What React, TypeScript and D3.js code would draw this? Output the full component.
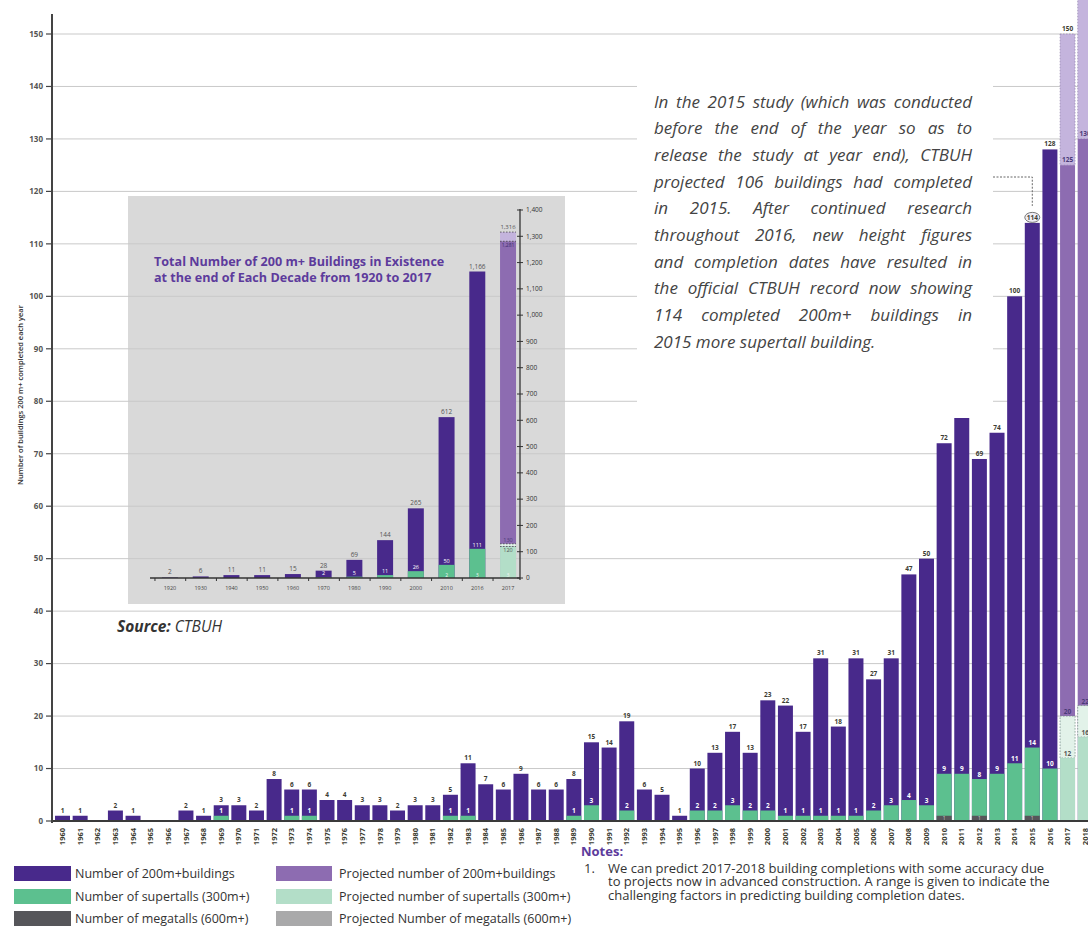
import React, { useRef, useEffect } from 'react';
import * as d3 from 'd3';

type Svg = d3.Selection<SVGSVGElement, unknown, null, undefined>;

// categories
const years = d3.range(1960, 2019).map(String);
const completedYears = years.slice(0, 57);
const projectedYears = ['2017', '2018'];

// buildings completed each year, 1960-2016
const totals = [
  1, 1, 0, 2, 1, 0, 0, 2, 1, 3,
  3, 2, 8, 6, 6, 4, 4, 3, 3, 2,
  3, 3, 5, 11, 7, 6, 9, 6, 6, 8,
  15, 14, 19, 6, 5, 1, 10, 13, 17, 13,
  23, 22, 17, 31, 18, 31, 27, 31, 47, 50,
  72, 80, 69, 74, 100, 114, 128,
];
const supertalls = [
  0, 0, 0, 0, 0, 0, 0, 0, 0, 1,
  0, 0, 0, 1, 1, 0, 0, 0, 0, 0,
  0, 0, 1, 1, 0, 0, 0, 0, 0, 1,
  3, 0, 2, 0, 0, 0, 2, 2, 3, 2,
  2, 1, 1, 1, 1, 1, 2, 3, 4, 3,
  9, 9, 8, 9, 11, 14, 10,
];
const megatallYears = ['2010', '2012', '2015'];
const megatalls = [1, 1, 1];

// projected range 2017-2018
const projectedLow = [125, 130];
const projectedHigh = [150, 160];
const projectedSuperLow = [12, 16];
const projectedSuperHigh = [20, 22];

// inset: totals in existence at end of each decade
const decades = ['1920', '1930', '1940', '1950', '1960', '1970', '1980', '1990', '2000', '2010', '2016', '2017'];
const decadeTotals = [2, 6, 11, 11, 15, 28, 69, 144, 265, 612, 1166, 1281];
const decadeSupertalls = [0, 0, 0, 0, 0, 2, 5, 11, 26, 50, 111, 120];
const decadeMegatalls = [0, 0, 0, 0, 0, 0, 0, 0, 0, 2, 3, 3];
const insetProjectedHigh = 1316;
const insetSuperHigh = 130;

const annotationLines = [
  'In the 2015 study (which was conducted',
  'before the end of the year so as to',
  'release the study at year end), CTBUH',
  'projected 106 buildings had completed',
  'in 2015. After continued research',
  'throughout 2016, new height figures',
  'and completion dates have resulted in',
  'the official CTBUH record now showing',
  '114 completed 200m+ buildings in',
  '2015 more supertall building.',
];

const legendLeft = ['Number of 200m+buildings', 'Number of supertalls (300m+)', 'Number of megatalls (600m+)'];
const legendRight = [
  'Projected number of 200m+buildings',
  'Projected number of supertalls (300m+)',
  'Projected Number of megatalls (600m+)',
];
const noteLines = [
  'We can predict 2017-2018 building completions with some accuracy due',
  'to projects now in advanced construction. A range is given to indicate the',
  'challenging factors in predicting building completion dates.',
];

const FONT = "'Open Sans', sans-serif";
const PURPLE = '#48298b';
const GREEN = '#5cc08f';
const MEGA = '#56565a';
const PROJ_PURPLE = '#8d6cb1';
const PROJ_UPPER = '#c4b4dd';
const PROJ_GREEN = '#b3dec8';
const PROJ_GREEN_RANGE = '#e2f2e9';
const PROJ_MEGA = '#a9a9aa';
const TITLE_PURPLE = '#5d3b9c';

const W = 1088;
const H = 926;

const App = () => {
  const ref = useRef<SVGSVGElement | null>(null);

  useEffect(() => {
    if (!ref.current) {
      return;
    }
    const svg = d3.select(ref.current);
    svg.selectAll('*').remove();

    const x = d3.scaleBand().domain(years).range([53.7, 1094]).paddingInner(0.15).paddingOuter(0.075);
    const y = d3.scaleLinear().domain([0, 150]).range([821, 34]);

    appendInsetBackground(svg);
    appendGrid(svg, y);
    appendBars(svg, x, y);
    appendProjected(svg, x, y);
    appendAxes(svg, x, y);
    appendInset(svg);
    appendAnnotation(svg, x, y);
    appendLegend(svg);
  }, []);

  return (
    <svg
      ref={ref}
      width={W}
      height={H}
      style={{ position: 'absolute', left: 0, top: 0, background: '#fff' }}
    />
  );
};

function appendInsetBackground(svg: Svg) {
  svg.append('rect').attr('x', 128).attr('y', 196).attr('width', 437).attr('height', 408).attr('fill', '#d9d9d9');
}

function appendGrid(svg: Svg, y: d3.ScaleLinear<number, number>) {
  svg
    .append('g')
    .selectAll('line')
    .data(y.ticks(15).filter((t) => t > 0))
    .enter()
    .append('line')
    .attr('x1', 52)
    .attr('x2', W)
    .attr('y1', (d) => y(d))
    .attr('y2', (d) => y(d))
    .attr('stroke', '#c9c9c9')
    .attr('stroke-width', 1);
}

function appendBars(svg: Svg, x: d3.ScaleBand<string>, y: d3.ScaleLinear<number, number>) {
  const g = svg.append('g');
  const bw = x.bandwidth();
  completedYears.forEach((yr, i) => {
    const x0 = x(yr) ?? 0;
    const total = totals[i];
    const sup = supertalls[i];
    if (total > 0) {
      g.append('rect').attr('x', x0).attr('y', y(total)).attr('width', bw).attr('height', y(0) - y(total)).attr('fill', PURPLE);
      g.append('text')
        .attr('x', x0 + bw / 2)
        .attr('y', y(total) - 3)
        .attr('text-anchor', 'middle')
        .attr('font-family', FONT)
        .attr('font-size', 6.5)
        .attr('font-weight', 700)
        .attr('fill', '#3d3d33')
        .text(total);
    }
    if (sup > 0) {
      g.append('rect').attr('x', x0).attr('y', y(sup)).attr('width', bw).attr('height', y(0) - y(sup)).attr('fill', GREEN);
      g.append('text')
        .attr('x', x0 + bw / 2)
        .attr('y', y(sup) - 2.5)
        .attr('text-anchor', 'middle')
        .attr('font-family', FONT)
        .attr('font-size', 6.5)
        .attr('font-weight', 700)
        .attr('fill', '#ffffff')
        .text(sup);
    }
  });
  megatallYears.forEach((yr, i) => {
    const x0 = x(yr) ?? 0;
    g.append('rect').attr('x', x0).attr('y', y(megatalls[i])).attr('width', bw).attr('height', y(0) - y(megatalls[i])).attr('fill', MEGA);
    g.append('text')
      .attr('x', x0 + bw / 2)
      .attr('y', y(0) - 1)
      .attr('text-anchor', 'middle')
      .attr('font-family', FONT)
      .attr('font-size', 5)
      .attr('fill', '#d0d0d0')
      .text(megatalls[i]);
  });
}

function appendProjected(svg: Svg, x: d3.ScaleBand<string>, y: d3.ScaleLinear<number, number>) {
  const g = svg.append('g');
  const bw = x.bandwidth();
  const label = (lx: number, ly: number, txt: string | number, fill: string) => {
    if (ly < 10) return;
    g.append('text')
      .attr('x', lx)
      .attr('y', ly)
      .attr('text-anchor', 'middle')
      .attr('font-family', FONT)
      .attr('font-size', 6.5)
      .attr('font-weight', 700)
      .attr('fill', fill)
      .text(txt);
  };

  projectedYears.forEach((yr, i) => {
    const x0 = x(yr) ?? 0;
    const cx = x0 + bw / 2;
    // upper range
    g.append('rect')
      .attr('x', x0)
      .attr('y', y(projectedHigh[i]))
      .attr('width', bw)
      .attr('height', y(projectedLow[i]) - y(projectedHigh[i]))
      .attr('fill', PROJ_UPPER)
      .attr('stroke', '#8a7aa6')
      .attr('stroke-width', 0.6)
      .attr('stroke-dasharray', '1.5 1.5');
    g.append('rect').attr('x', x0).attr('y', y(projectedLow[i])).attr('width', bw).attr('height', y(0) - y(projectedLow[i])).attr('fill', PROJ_PURPLE);
    // supertall range
    g.append('rect')
      .attr('x', x0)
      .attr('y', y(projectedSuperHigh[i]))
      .attr('width', bw)
      .attr('height', y(projectedSuperLow[i]) - y(projectedSuperHigh[i]))
      .attr('fill', PROJ_GREEN_RANGE)
      .attr('stroke', '#6f8a7c')
      .attr('stroke-width', 0.7)
      .attr('stroke-dasharray', '1.5 1.5');
    g.append('rect')
      .attr('x', x0)
      .attr('y', y(projectedSuperLow[i]))
      .attr('width', bw)
      .attr('height', y(0) - y(projectedSuperLow[i]))
      .attr('fill', PROJ_GREEN);

    label(cx, y(projectedHigh[i]) - 3, projectedHigh[i], '#3d3d33');
    label(cx, y(projectedLow[i]) - 3, projectedLow[i], '#4a3a78');
    label(cx, y(projectedSuperHigh[i]) - 2, projectedSuperHigh[i], '#4a3a78');
    label(cx, y(projectedSuperLow[i]) - 2, projectedSuperLow[i], '#555555');
  });
}

function appendAxes(svg: Svg, x: d3.ScaleBand<string>, y: d3.ScaleLinear<number, number>) {
  const g = svg.append('g');
  g.append('line').attr('x1', 52).attr('x2', W).attr('y1', 821).attr('y2', 821).attr('stroke', '#3a3a3a').attr('stroke-width', 2);
  g.append('line').attr('x1', 52).attr('x2', 52).attr('y1', 14).attr('y2', 823).attr('stroke', '#444').attr('stroke-width', 2);

  y.ticks(15).forEach((t) => {
    g.append('line').attr('x1', 46).attr('x2', 52).attr('y1', y(t)).attr('y2', y(t)).attr('stroke', '#444').attr('stroke-width', 1.2);
    g.append('text')
      .attr('x', 43)
      .attr('y', y(t))
      .attr('dy', '0.35em')
      .attr('text-anchor', 'end')
      .attr('font-family', FONT)
      .attr('font-size', 8)
      .attr('font-weight', 700)
      .attr('fill', '#555')
      .text(t);
  });

  years.forEach((yr) => {
    const cx = (x(yr) ?? 0) + x.bandwidth() / 2;
    g.append('text')
      .attr('transform', `translate(${cx},828) rotate(-90)`)
      .attr('dy', '0.35em')
      .attr('text-anchor', 'end')
      .attr('font-family', FONT)
      .attr('font-size', 7.5)
      .attr('font-weight', 700)
      .attr('fill', '#3b3b2f')
      .text(yr);
  });

  g.append('text')
    .attr('transform', 'translate(20,395) rotate(-90)')
    .attr('dy', '0.35em')
    .attr('text-anchor', 'middle')
    .attr('font-family', FONT)
    .attr('font-size', 7.5)
    .attr('font-weight', 600)
    .attr('fill', '#333')
    .text('Number of buildings 200 m+ completed each year');

  const src = g.append('text').attr('x', 117).attr('y', 632).attr('font-family', FONT).attr('font-size', 15.5).attr('font-style', 'italic').attr('fill', '#333');
  src.append('tspan').attr('font-weight', 700).text('Source:');
  src.append('tspan').text(' CTBUH');
}

function appendInset(svg: Svg) {
  const g = svg.append('g');
  const ix = d3.scaleBand().domain(decades).range([154.6, 523.4]).paddingInner(0.48).paddingOuter(0.24);
  const iy = d3.scaleLinear().domain([0, 1400]).range([578, 210]);
  const bw = ix.bandwidth();
  const txt = (lx: number, ly: number, t: string, fill: string, size = 6.5) =>
    g
      .append('text')
      .attr('x', lx)
      .attr('y', ly)
      .attr('text-anchor', 'middle')
      .attr('font-family', FONT)
      .attr('font-size', size)
      .attr('fill', fill)
      .text(t);
  const fmt = d3.format(',');

  decades.forEach((dc, i) => {
    const x0 = ix(dc) ?? 0;
    const cx = x0 + bw / 2;
    const projected = dc === '2017';
    const total = decadeTotals[i];
    const sup = decadeSupertalls[i];
    if (projected) {
      g.append('rect')
        .attr('x', x0)
        .attr('y', iy(insetProjectedHigh))
        .attr('width', bw)
        .attr('height', iy(total) - iy(insetProjectedHigh))
        .attr('fill', PROJ_UPPER);
    }
    g.append('rect')
      .attr('x', x0)
      .attr('y', iy(total))
      .attr('width', bw)
      .attr('height', iy(0) - iy(total))
      .attr('fill', projected ? PROJ_PURPLE : PURPLE);
    if (projected) {
      g.append('rect')
        .attr('x', x0)
        .attr('y', iy(insetSuperHigh))
        .attr('width', bw)
        .attr('height', iy(sup) - iy(insetSuperHigh))
        .attr('fill', PROJ_GREEN_RANGE);
    }
    if (sup > 0) {
      g.append('rect')
        .attr('x', x0)
        .attr('y', iy(sup))
        .attr('width', bw)
        .attr('height', iy(0) - iy(sup))
        .attr('fill', projected ? PROJ_GREEN : GREEN);
    }
    if (projected) {
      txt(cx, iy(insetProjectedHigh) - 3, fmt(insetProjectedHigh), '#555', 6);
      txt(cx, iy(total) + 6, fmt(total), '#3b2a6b', 5);
      txt(cx, iy(insetSuperHigh) - 2, String(insetSuperHigh), '#4a3a78', 5.5);
      txt(cx, iy(sup) + 6, String(sup), '#555', 5.5);
      // range brackets
      [insetProjectedHigh, total, insetSuperHigh, sup].forEach((v) => {
        g.append('line')
          .attr('x1', x0)
          .attr('x2', x0 + bw)
          .attr('y1', iy(v))
          .attr('y2', iy(v))
          .attr('stroke', '#333')
          .attr('stroke-width', 0.7)
          .attr('stroke-dasharray', '1.5 1.5');
      });
    } else {
      txt(cx, iy(total) - 3, fmt(total), '#555');
      if (sup > 0) txt(cx, iy(sup) - 2, String(sup), '#fff', 5.5);
    }
    if (decadeMegatalls[i] > 0) txt(cx, iy(0) - 1, String(decadeMegatalls[i]), '#f4f4f4', 5);
  });

  // right axis
  g.append('line').attr('x1', 520).attr('x2', 520).attr('y1', 209).attr('y2', 580).attr('stroke', '#333').attr('stroke-width', 1.3);
  iy.ticks(14).forEach((t) => {
    g.append('line').attr('x1', 517).attr('x2', 523).attr('y1', iy(t)).attr('y2', iy(t)).attr('stroke', '#333').attr('stroke-width', 1);
    g.append('text')
      .attr('x', 526)
      .attr('y', iy(t))
      .attr('dy', '0.35em')
      .attr('font-family', FONT)
      .attr('font-size', 6.5)
      .attr('fill', '#333')
      .text(fmt(t));
  });

  // bottom axis
  g.append('line').attr('x1', 150).attr('x2', 520).attr('y1', 578).attr('y2', 578).attr('stroke', '#333').attr('stroke-width', 1.3);
  decades.forEach((dc) => {
    const cx = (ix(dc) ?? 0) + bw / 2;
    g.append('line').attr('x1', cx - 15).attr('x2', cx - 15).attr('y1', 578).attr('y2', 581).attr('stroke', '#333').attr('stroke-width', 1);
    txt(cx, 590, dc, '#444', 5.5);
  });

  g.append('text')
    .attr('x', 154)
    .attr('font-family', FONT)
    .attr('font-size', 12.6)
    .attr('font-weight', 700)
    .attr('fill', TITLE_PURPLE)
    .selectAll('tspan')
    .data(['Total Number of 200 m+ Buildings in Existence', 'at the end of Each Decade from 1920 to 2017'])
    .enter()
    .append('tspan')
    .attr('x', 154)
    .attr('y', (_d, i) => 266 + i * 16)
    .text((d) => d);
}

function appendAnnotation(svg: Svg, x: d3.ScaleBand<string>, y: d3.ScaleLinear<number, number>) {
  const g = svg.append('g');
  g.append('rect').attr('x', 637).attr('y', 60).attr('width', 356).attr('height', 358).attr('fill', '#fff');

  const ctx = document.createElement('canvas').getContext('2d');
  const font = `italic 17px 'Open Sans'`;
  if (ctx) ctx.font = font;
  const left = 654;
  const width = 318;

  annotationLines.forEach((line, i) => {
    const ly = 107.5 + i * 26.67;
    const last = i === annotationLines.length - 1;
    if (last || !ctx) {
      g.append('text')
        .attr('x', left)
        .attr('y', ly)
        .attr('font-family', FONT)
        .attr('font-style', 'italic')
        .attr('font-size', 17)
        .attr('fill', '#444')
        .text(line);
      return;
    }
    const words = line.split(' ');
    const widths = words.map((w) => ctx.measureText(w).width);
    const gap = (width - d3.sum(widths)) / (words.length - 1);
    let cx = left;
    words.forEach((w, j) => {
      g.append('text')
        .attr('x', cx)
        .attr('y', ly)
        .attr('font-family', FONT)
        .attr('font-style', 'italic')
        .attr('font-size', 17)
        .attr('fill', '#444')
        .text(w);
      cx += widths[j] + gap;
    });
  });

  // callout to the revised 2015 figure
  const c2015 = (x('2015') ?? 0) + x.bandwidth() / 2;
  g.append('path')
    .attr('d', `M993,177 H${c2015} V${y(114) - 17}`)
    .attr('fill', 'none')
    .attr('stroke', '#666')
    .attr('stroke-width', 1)
    .attr('stroke-dasharray', '2 1.5');
  g.append('ellipse')
    .attr('cx', c2015)
    .attr('cy', y(114) - 5.5)
    .attr('rx', 7.5)
    .attr('ry', 5)
    .attr('fill', '#efedf5')
    .attr('stroke', '#555')
    .attr('stroke-width', 0.8);
  g.append('text')
    .attr('x', c2015)
    .attr('y', y(114) - 3)
    .attr('text-anchor', 'middle')
    .attr('font-family', FONT)
    .attr('font-size', 6.5)
    .attr('font-weight', 700)
    .attr('fill', '#3d3d33')
    .text(114);
}

function appendLegend(svg: Svg) {
  const g = svg.append('g');
  const leftColors = [PURPLE, GREEN, MEGA];
  const rightColors = [PROJ_PURPLE, PROJ_GREEN, PROJ_MEGA];
  const rowY = [866, 889, 911];

  legendLeft.forEach((t, i) => {
    g.append('rect').attr('x', 14).attr('y', rowY[i]).attr('width', 57).attr('height', 15).attr('fill', leftColors[i]);
    g.append('text').attr('x', 75).attr('y', rowY[i] + 12).attr('font-family', FONT).attr('font-size', 12.5).attr('fill', '#333').text(t);
  });
  legendRight.forEach((t, i) => {
    g.append('rect').attr('x', 276).attr('y', rowY[i]).attr('width', 56).attr('height', 15).attr('fill', rightColors[i]);
    g.append('text').attr('x', 339).attr('y', rowY[i] + 12).attr('font-family', FONT).attr('font-size', 12.5).attr('fill', '#333').text(t);
  });

  g.append('text')
    .attr('x', 581)
    .attr('y', 856)
    .attr('font-family', FONT)
    .attr('font-size', 13)
    .attr('font-weight', 700)
    .attr('fill', TITLE_PURPLE)
    .text('Notes:');
  g.append('text').attr('x', 584).attr('y', 873).attr('font-family', FONT).attr('font-size', 13).attr('fill', '#333').text('1.');
  noteLines.forEach((t, i) => {
    g.append('text')
      .attr('x', 608)
      .attr('y', 873 + i * 13.3)
      .attr('font-family', FONT)
      .attr('font-size', 13)
      .attr('fill', '#333')
      .text(t);
  });
}

export default App;
